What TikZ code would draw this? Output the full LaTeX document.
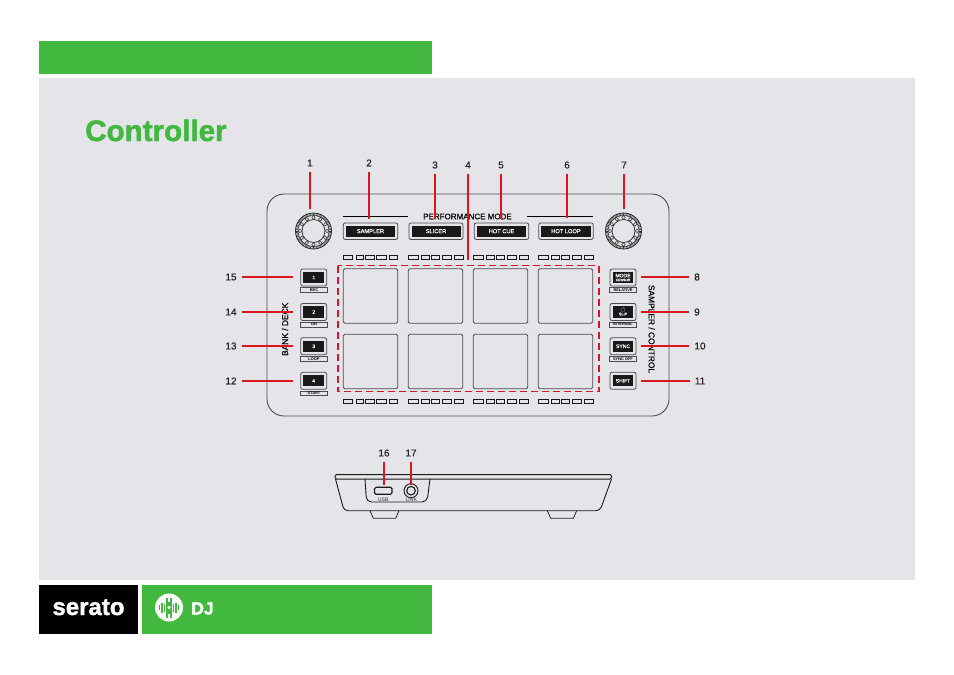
\documentclass[tikz,border=0pt]{standalone}
\usepackage{amssymb}
\usepackage{fontspec}
\setmainfont{Liberation Sans}
\newfontfamily\heavyfont{Liberation Sans}[BoldFeatures={FakeBold=1.6}]
\newfontfamily\medfont{Liberation Sans}[FakeBold=0.35]
\usepackage{tikz}
\usetikzlibrary{positioning}
\definecolor{serGreen}{HTML}{42B83F}
\definecolor{panelGray}{HTML}{E5E4E9}
\definecolor{lineGray}{HTML}{4A4A4F}
\definecolor{calloutRed}{HTML}{D9151E}
\tikzset{
  num/.style={inner sep=5pt,font=\medfont\fontsize{10}{10}\selectfont,text=black!85},
  callout/.style={calloutRed,line width=1.25pt},
  calloutThick/.style={calloutRed,line width=2.2pt},
  calloutUp/.style={calloutRed,line width=1.9pt},
  padbox/.style={draw=lineGray,line width=.8pt,rounded corners=1.5pt,minimum width=54.5pt,minimum height=54.5pt,inner sep=0},
  ledbox/.style={draw=black!90,line width=.75pt,minimum height=4pt,inner sep=0},
  perfOuter/.style={draw=lineGray,line width=.8pt,rounded corners=2pt,minimum height=16.5pt,inner sep=0},
  perfInner/.style={fill=black!90,text=white,minimum height=11pt,inner sep=0,font=\medfont\fontsize{5.7}{6}\selectfont},
  btnOuter/.style={draw=lineGray,line width=.8pt,rounded corners=2pt,minimum width=26pt,minimum height=17pt,inner sep=0},
  btnInner/.style={fill=black!90,text=white,minimum width=20.5pt,minimum height=11.3pt,inner sep=0,align=center,font=\medfont\fontsize{5}{5}\selectfont},
  tagbox/.style={draw=lineGray,line width=.6pt,minimum width=27pt,minimum height=4.6pt,inner sep=0,font=\fontsize{3.9}{4}\selectfont\bfseries},
  sideText/.style={inner sep=0,font=\medfont\fontsize{8.4}{9}\selectfont},
  tinyText/.style={inner sep=0,font=\fontsize{5.2}{5}\selectfont,text=black!80},
}
\begin{document}
\begin{tikzpicture}[x=1pt,y=-1pt]
\useasboundingbox (0,0) rectangle (954,675);
% page blocks
\path [fill=serGreen] (39,41) rectangle (432,74);
\path [fill=panelGray] (39,78) rectangle (915,580);
\path [fill=black] (39,585) rectangle (138,634);
\path [fill=serGreen] (142,585) rectangle (432,634);
\node (title) [inner sep=0,anchor=base west,text=serGreen,font=\heavyfont\fontsize{29.6}{30}\selectfont\bfseries] at (85,141) {Controller};
\node (seratoWord) [inner sep=0,anchor=base,text=white,font=\heavyfont\fontsize{24}{24}\selectfont\bfseries] at (88.5,615) {serato};
\node (djWord) [inner sep=0,anchor=base west,text=white,font=\heavyfont\fontsize{17.6}{18}\selectfont\bfseries] at (191,614.5) {DJ};
% waveform disc
\node (disc) [circle,fill=white,minimum size=28pt,inner sep=0] at (169,607.5) {};
\foreach \dx/\h in {-9.5/2.5,-7/5,-4.5/4,-2/10,2/10,4.5/4,7/5,9.5/2.5,0/6}
  \draw [serGreen,line width=1.5pt] ([shift={(\dx,-\h)}]disc.center) -- ([shift={(\dx,\h)}]disc.center);
\node (discHub) [circle,fill=white,minimum size=3.5pt,inner sep=0] at (disc) {};

% top view body
\draw [lineGray,line width=.9pt,rounded corners=17pt] (267,194) rectangle (669,416);
\foreach \k/\x in {knobL/313.5,knobR/623.5} {
  \node (\k) [circle,draw=black!85,line width=.8pt,minimum size=36pt,inner sep=0] at (\x,231) {};
  \draw [black!85,line width=.6pt] (\k.center) circle (15.5);
  \draw [black!85,line width=.7pt] (\k.center) circle (11.5);
  \foreach \a in {0,5,...,355}
    \draw [black!80,line width=.55pt] ([shift={(\a:15.5)}]\k.center) -- ([shift={(\a:18)}]\k.center);
  \foreach \a in {0,30,...,330}
    \draw [black!75,line width=.55pt] ([shift={(\a:13.5)}]\k.center) circle (1.8);
}
\node (perfText) [inner sep=0,font=\medfont\fontsize{8}{9}\selectfont] at (467.5,216.5) {PERFORMANCE MODE};
\coordinate (barAw) at (343,216);
\coordinate (barAe) at (408,216);
\coordinate (barBw) at (527,216);
\coordinate (barBe) at (593,216);
\draw [black,line width=.8pt] (barAw) -- (barAe);
\draw [black,line width=.8pt] (barBw) -- (barBe);
% performance buttons
\foreach \n/\x/\w/\txt in {a/370.5/54.5/SAMPLER,b/436/54/SLICER,c/501.5/54.5/HOT CUE,d/566/54.5/HOT LOOP} {
  \node (perf\n) [perfOuter,minimum width=\w pt] at (\x,231.2) {};
  \node (perfIn\n) [perfInner,minimum width=\w pt-5pt] at (perf\n) {\txt};
}
% LED strips
\foreach \x in {343,408.3,473.5,538.5} {
  \foreach \y in {257.3,401.3} {
    \foreach \dx/\w in {5/9.4,16.8/7.6,27/8.3,38.5/9.4,50.5/8.4}
      \node [ledbox,minimum width=\w pt] at (\x+\dx,\y) {};
  }
}
% pads
\foreach \c/\x in {1/370.5,2/435.5,3/500.5,4/565.5} {
  \foreach \r/\y in {1/296,2/361.5}
    \node (pad\c\r) [padbox] at (\x,\y) {};
}
\coordinate (dashNW) at (338,265.5);
\coordinate (dashSE) at (599,391.5);
\draw [calloutRed,line width=1.5pt,dash pattern=on 7pt off 4pt] (dashNW) rectangle (dashSE);
% left buttons
\foreach \n/\yb/\yt/\txt in {1/277.5/290/REC,2/312/324.5/ON,3/346.3/359/LOOP,4/380.8/393.3/START} {
  \node (btnL\n) [btnOuter] at (313.7,\yb) {};
  \node (btnInL\n) [btnInner] at (btnL\n) {\n};
  \node (tagL\n) [tagbox] at (314,\yt) {\txt};
}
% right buttons
\node (btnR1) [btnOuter] at (623,277.5) {};
\node (btnInR1) [btnInner] at (btnR1) {MODE\\[-1.2pt]\fontsize{3.4}{3.4}\selectfont CENSOR};
\node (tagR1) [tagbox] at (623,290) {RELATIVE};
\node (btnR2) [btnOuter] at (623,312) {};
\node (btnInR2) [btnInner] at (btnR2) {$\circlearrowleft$\\[-1.6pt]\fontsize{3.8}{3.8}\selectfont SLIP};
\node (tagR2) [tagbox] at (623,324.5) {INTERNAL};
\node (btnR3) [btnOuter] at (623,346.3) {};
\node (btnInR3) [btnInner] at (btnR3) {SYNC};
\node (tagR3) [tagbox] at (623,359) {SYNC OFF};
\node (btnR4) [btnOuter] at (623,380.8) {};
\node (btnInR4) [btnInner] at (btnR4) {SHIFT};
\node (bankText) [sideText,rotate=90] at (285,329.3) {BANK / DECK};
\node (samplerText) [sideText,rotate=-90] at (651.7,329) {SAMPLER / CONTROL};

% side view
\path [draw=black!90,line width=1pt,rounded corners=1.5pt] (335,474.5) -- (611.5,474.5) -- (611.5,479) -- (335,479) -- cycle;
\draw [black!90,line width=.9pt,rounded corners=4pt] (335.5,479) -- (344,510.7) -- (600,510.7) -- (611.5,479);
\draw [black!90,line width=.9pt,rounded corners=5pt] (365,479) -- (366.5,502) -- (427,502) -- (430,479);
\draw [black!85,line width=.8pt] (370,510.7) -- (373.3,518.3) -- (395.7,518.3) -- (399,510.7);
\draw [black!85,line width=.8pt] (547.3,510.7) -- (550.7,518.3) -- (573.3,518.3) -- (576.7,510.7);
\node (usb) [draw=black!90,line width=1.2pt,rounded corners=1.5pt,minimum width=17.5pt,minimum height=7pt,inner sep=0] at (383.3,490.8) {};
\node (jack) [circle,draw=black!90,line width=.9pt,minimum size=14pt,inner sep=0] at (411,490.7) {};
\node (jackIn) [circle,draw=black!90,line width=1.1pt,minimum size=8.6pt,inner sep=0] at (jack) {};
\node (usbText) [tinyText] at (383.3,499.3) {USB};
\node (linkText) [tinyText] at (411.3,499.3) {LINK};

% callouts
\foreach \n/\x/\y/\ex/\ey in {1/310/163/310/209,2/369/163/369/219,3/435/165/435/219,4/468/165/468/260,5/501/165/501/219,6/567/165/567/218,7/624/165/624/209,16/384/453/384/484.5,17/411/453/411/485} {
  \node (num\n) [num] at (\x,\y) {\n};
  \coordinate (end\n) at (\ex,\ey);
  \draw [calloutUp] (num\n) -- (end\n);
}
\foreach \n/\x/\y/\ex in {15/231/277/293,14/231/312/293,13/231/346/293,8/697/277/641,9/697/312/641,10/700/346/641} {
  \node (num\n) [num] at (\x,\y) {\n};
  \coordinate (end\n) at (\ex,\y);
  \draw [callout] (num\n) -- (end\n);
}
\foreach \n/\x/\ex in {12/231/293,11/700/641} {
  \node (num\n) [num] at (\x,381) {\n};
  \coordinate (end\n) at (\ex,381);
  \draw [calloutThick] (num\n) -- (end\n);
}
\end{tikzpicture}
\end{document}
